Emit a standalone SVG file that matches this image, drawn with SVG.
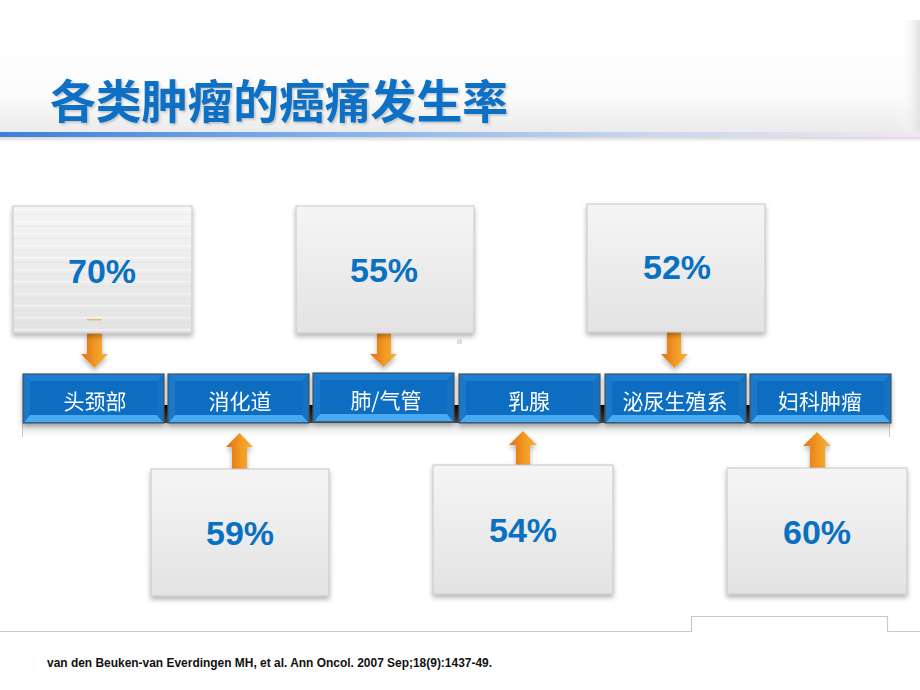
<svg xmlns="http://www.w3.org/2000/svg" xmlns:xlink="http://www.w3.org/1999/xlink" width="920" height="690" viewBox="0 0 920 690">
<defs>
<linearGradient id="hdr" x1="0" y1="0" x2="0" y2="1">
<stop offset="0" stop-color="#ffffff"/>
<stop offset="0.6" stop-color="#fbfbfb"/>
<stop offset="1" stop-color="#ebebeb"/>
</linearGradient>
<linearGradient id="hdrR" x1="0" y1="0" x2="1" y2="0">
<stop offset="0" stop-color="#ffffff" stop-opacity="0"/>
<stop offset="1" stop-color="#e2e2e2"/>
</linearGradient>
<linearGradient id="bline" x1="0" y1="0" x2="1" y2="0">
<stop offset="0" stop-color="#3f7fd6"/>
<stop offset="0.35" stop-color="#7fb0ee"/>
<stop offset="0.7" stop-color="#c9d6ec"/>
<stop offset="1" stop-color="#f3e6f3"/>
</linearGradient>
<linearGradient id="bshadow" x1="0" y1="0" x2="0" y2="1">
<stop offset="0" stop-color="#d6d6d6"/>
<stop offset="1" stop-color="#ffffff"/>
</linearGradient>
<linearGradient id="boxg" x1="0" y1="0" x2="0" y2="1">
<stop offset="0" stop-color="#f5f5f5"/>
<stop offset="1" stop-color="#e3e3e3"/>
</linearGradient>
<linearGradient id="arr" x1="0" y1="0" x2="1" y2="0">
<stop offset="0" stop-color="#e06f16"/>
<stop offset="0.55" stop-color="#f29a22"/>
<stop offset="1" stop-color="#f6b13a"/>
</linearGradient>
<linearGradient id="bar" x1="0" y1="0" x2="0" y2="1">
<stop offset="0" stop-color="#050505"/>
<stop offset="1" stop-color="#4a4a4a"/>
</linearGradient>
<linearGradient id="refl" x1="0" y1="0" x2="0" y2="1">
<stop offset="0" stop-color="#e2e2e2"/>
<stop offset="1" stop-color="#ffffff"/>
</linearGradient>
<filter id="sh" x="-10%" y="-10%" width="125%" height="130%">
<feDropShadow dx="0" dy="3" stdDeviation="2.5" flood-color="#000" flood-opacity="0.3"/>
</filter>
<filter id="tsh" x="-5%" y="-10%" width="110%" height="130%">
<feDropShadow dx="1.5" dy="1.5" stdDeviation="1" flood-color="#000" flood-opacity="0.22"/>
</filter>
<g id="btn">
<rect x="0" y="0" width="141" height="49" fill="#0b6fc2" stroke="#4b5560" stroke-width="1.2"/>
<polygon points="1,1 140,1 134,7 7,7" fill="#1e7fd2"/>
<polygon points="1,48 140,48 134,41 7,41" fill="#48aaf2"/>
<polygon points="1,1 7,7 7,41 1,48" fill="#1a78c9"/>
<polygon points="140,1 134,7 134,41 140,48" fill="#1672c0"/>
<rect x="7" y="7" width="127" height="34" fill="#0a6ec1"/>
</g>
<pattern id="stripes" x="0" y="206" width="10" height="12" patternUnits="userSpaceOnUse">
<rect x="0" y="3" width="10" height="1.5" fill="#ffffff" opacity="0.45"/>
<rect x="0" y="8" width="10" height="1" fill="#d6d6d6" opacity="0.3"/>
</pattern>
</defs>
<style>
.box{fill:url(#boxg);stroke:#c6c6c6;stroke-width:1;}
.pct{font-family:"Liberation Sans",Arial,sans-serif;font-weight:bold;font-size:34px;fill:#0a70c2;text-anchor:middle;}
.lbl{font-family:"Noto Sans CJK SC","Noto Sans",sans-serif;font-size:21px;fill:#ffffff;text-anchor:middle;}
.arrow{fill:url(#arr);}
</style>
<rect x="0" y="0" width="920" height="690" fill="#ffffff"/>
<!-- header -->
<rect x="0" y="40" width="920" height="93" fill="url(#hdr)"/>
<rect x="900" y="20" width="20" height="113" fill="url(#hdrR)"/>
<rect x="0" y="137" width="920" height="5" fill="url(#bshadow)"/>
<rect x="0" y="132" width="920" height="5" fill="url(#bline)"/>
<text x="50" y="118" font-family="Noto Sans CJK SC, sans-serif" font-weight="bold" font-size="46" fill="#0b6fc4" filter="url(#tsh)" textLength="458" lengthAdjust="spacingAndGlyphs">各类肿瘤的癌痛发生率</text>
<!-- timeline bar -->
<g id="timeline">
<rect x="22" y="423" width="868" height="14" fill="url(#refl)"/>
<line x1="22.5" y1="423" x2="22.5" y2="437" stroke="#c8c8c8"/>
<line x1="889.5" y1="423" x2="889.5" y2="437" stroke="#c8c8c8"/>
<rect x="23" y="405" width="867" height="18" fill="url(#bar)"/>
</g>
<!-- connectors -->
<g id="connectors">
<polygon class="arrow" points="87,333 102,333 102,354 108,354 94.5,368 81,354 87,354" filter="url(#sh)"/>
<polygon class="arrow" points="377,333 391,333 391,354 397,354 383.5,367 370,354 377,354" filter="url(#sh)"/>
<polygon class="arrow" points="667,332 681,332 681,354 688,354 674.5,368 661,354 667,354" filter="url(#sh)"/>
<polygon class="arrow" points="232,469 247,469 247,447 253,447 239.5,433 226,447 232,447" filter="url(#sh)"/>
<polygon class="arrow" points="516,465 530,465 530,445 537,445 523,431 509,445 516,445" filter="url(#sh)"/>
<polygon class="arrow" points="810,468 825,468 825,446 831,446 817,432 803,446 810,446" filter="url(#sh)"/>
</g>
<!-- top boxes -->
<g id="n70">
<rect class="box" x="13" y="206" width="179" height="127" filter="url(#sh)"/>
<rect x="14" y="207" width="177" height="125" fill="url(#stripes)"/>
<rect x="87" y="319" width="15" height="1.5" fill="#e8a848" opacity="0.7"/>
<text class="pct" x="102" y="283">70%</text>
</g>
<g id="n55">
<rect class="box" x="296" y="206" width="178" height="127" filter="url(#sh)"/>
<text class="pct" x="384" y="282">55%</text>
</g>
<rect x="457" y="339" width="5" height="5" fill="#dedede"/>
<g id="n52">
<rect class="box" x="587" y="204" width="178" height="128" filter="url(#sh)"/>
<text class="pct" x="677" y="279">52%</text>
</g>
<!-- bottom boxes -->
<g id="n59">
<rect class="box" x="151" y="469" width="178" height="127" filter="url(#sh)"/>
<text class="pct" x="240" y="545">59%</text>
</g>
<g id="n54">
<rect class="box" x="433" y="465" width="180" height="129" filter="url(#sh)"/>
<text class="pct" x="523" y="542">54%</text>
</g>
<g id="n60">
<rect class="box" x="727" y="468" width="180" height="126" filter="url(#sh)"/>
<text class="pct" x="817" y="544">60%</text>
</g>
<!-- buttons -->
<g id="b1" filter="url(#sh)"><use xlink:href="#btn" x="23" y="374"/><text class="lbl" x="95" y="409">头颈部</text></g>
<g id="b2" filter="url(#sh)"><use xlink:href="#btn" x="168" y="374"/><text class="lbl" x="240" y="409">消化道</text></g>
<g id="b3" filter="url(#sh)"><use xlink:href="#btn" x="313" y="373"/><text class="lbl" x="386" y="408">肺/气管</text></g>
<g id="b4" filter="url(#sh)"><use xlink:href="#btn" x="459" y="374"/><text class="lbl" x="529" y="409">乳腺</text></g>
<g id="b5" filter="url(#sh)"><use xlink:href="#btn" x="605" y="374"/><text class="lbl" x="675" y="409">泌尿生殖系</text></g>
<g id="b6" filter="url(#sh)"><use xlink:href="#btn" x="750" y="374"/><text class="lbl" x="820" y="409">妇科肿瘤</text></g>
<!-- footer -->
<polyline points="0,631.5 691.5,631.5 691.5,616.5 887.5,616.5 887.5,631.5 920,631.5" fill="none" stroke="#c8c8c8" stroke-width="1.2"/>
<text x="47" y="667" font-family="Liberation Sans, Arial, sans-serif" font-weight="bold" font-size="12" fill="#111111" textLength="445" lengthAdjust="spacingAndGlyphs">van den Beuken-van Everdingen MH, et al. Ann Oncol. 2007 Sep;18(9):1437-49.</text>
</svg>
